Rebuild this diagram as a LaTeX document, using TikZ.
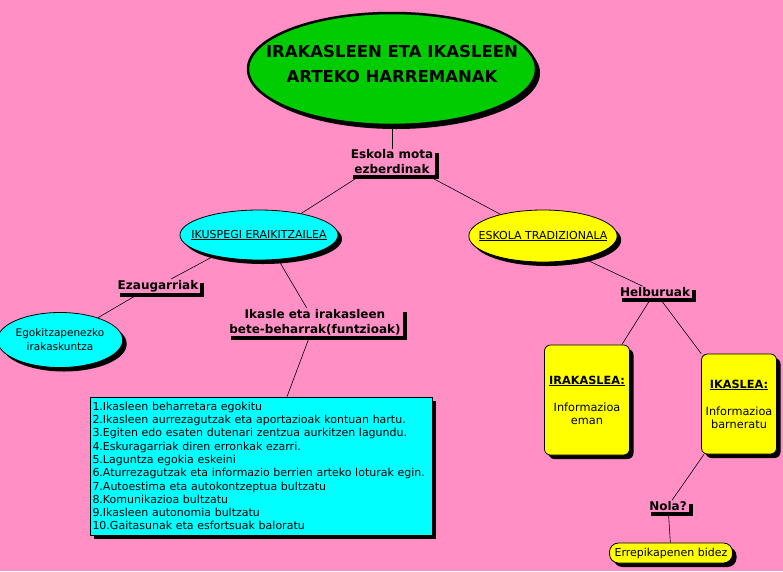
\documentclass[tikz,border=0pt]{standalone}
\usepackage{fontspec}
\setmainfont{DejaVu Sans}
\usetikzlibrary{shapes.geometric,shadows,calc}
\definecolor{bgpink}{HTML}{FF8FC5}
\definecolor{tgreen}{HTML}{00CC00}
\definecolor{tcyan}{HTML}{00FFFF}
\definecolor{tyellow}{HTML}{FFFF00}
\tikzset{
  shd/.style={drop shadow={shadow xshift=4pt,shadow yshift=-4pt,fill=black,opacity=1}},
  lbl/.style={font=\bfseries\fontsize{12}{15}\selectfont, fill=bgpink, align=center,
    inner xsep=2pt, inner ysep=1pt, shd},
  oval/.style={ellipse, draw=black, line width=0.8pt, inner sep=0pt, align=center, shd},
  rbox/.style={rectangle, rounded corners=6pt, draw=black, line width=0.8pt, fill=tyellow,
    align=center, shd},
  conn/.style={draw=black, line width=0.6pt}
}
\begin{document}
\begin{tikzpicture}[x=1pt,y=-1pt]
\useasboundingbox (0,0) rectangle (783,571);
\fill[bgpink] (0,0) rectangle (783,571);

% title
\node[oval, line width=2.5pt, fill=tgreen, minimum width=288pt, minimum height=112pt] (title) at (392,69) {};
\node[align=center, font=\bfseries\fontsize{16.5}{25}\selectfont, inner sep=0pt] (titletext) at (392,64)
  {IRAKASLEEN ETA IKASLEEN\\ARTEKO HARREMANAK};

\node[lbl] (esk) at (392,162) {Eskola mota\\ezberdinak};

\node[oval, fill=tcyan, minimum width=158pt, minimum height=50pt, inner xsep=-12pt,
  font=\fontsize{11}{13}\selectfont] (ik) at (259,235) {\underline{IKUSPEGI ERAIKITZAILEA}};
\node[oval, fill=tyellow, minimum width=148pt, minimum height=52pt, inner xsep=-12pt,
  font=\fontsize{11}{13}\selectfont] (et) at (543,236) {\underline{ESKOLA TRADIZIONALA}};

\node[lbl] (ez) at (158,286) {Ezaugarriak};
\node[oval, fill=tcyan, minimum width=114pt, minimum height=55pt,
  font=\fontsize{10.5}{14}\selectfont] (ego) at (60,340) {Egokitzapenezko\\irakaskuntza};

\node[lbl] (ikl) at (315,322) {Ikasle eta irakasleen\\bete-beharrak(funtzioak)};

\node[rectangle, draw=black, line width=0.8pt, fill=tcyan, shd, align=left,
  minimum width=342pt, minimum height=138pt, text width=337pt, inner xsep=2.5pt,
  font=\fontsize{11}{13.3}\selectfont] (list) at (261,466)
  {1.Ikasleen beharretara egokitu\\
   2.Ikasleen aurrezagutzak eta aportazioak kontuan hartu.\\
   3.Egiten edo esaten dutenari zentzua aurkitzen lagundu.\\
   4.Eskuragarriak diren erronkak ezarri.\\
   5.Laguntza egokia eskeini\\
   6.Aturrezagutzak eta informazio berrien arteko loturak egin.\\
   7.Autoestima eta autokontzeptua bultzatu\\
   8.Komunikazioa bultzatu\\
   9.Ikasleen autonomia bultzatu\\
   10.Gaitasunak eta esfortsuak baloratu};

\node[lbl] (hel) at (655,292) {Helburuak};

\node[rbox, minimum width=85pt, minimum height=110pt, font=\fontsize{11.3}{13}\selectfont]
  (irak) at (587,400) {{\bfseries\underline{IRAKASLEA:}}\\[14pt]Informazioa\\eman};
\node[rbox, minimum width=75pt, minimum height=100pt, font=\fontsize{11.3}{13}\selectfont]
  (ikas) at (739,404) {{\bfseries\underline{IKASLEA:}}\\[14pt]Informazioa\\barneratu};

\node[lbl] (nola) at (668,506) {Nola?};
\node[rbox, rounded corners=9pt, minimum width=123pt, minimum height=20pt, inner sep=1pt,
  font=\fontsize{11}{12}\selectfont] (err) at (671,553) {Errepikapenen bidez};

% connectors
\draw[conn] (title) -- (esk);
\draw[conn] ($(esk.south west)+(12,0)$) -- (ik.27);
\draw[conn] ($(esk.south east)+(-8,0)$) -- (et.153);
\draw[conn] (ik.205) -- (ez);
\draw[conn] ($(ez.south)+(-18,0)$) -- (ego);
\draw[conn] (ik.-52) -- (ikl);
\draw[conn] (ikl) -- (list);
\draw[conn] (et.-29) -- (hel);
\draw[conn] (hel) -- (irak);
\draw[conn] (hel) -- (ikas);
\draw[conn] (ikas) -- (nola);
\draw[conn] (nola) -- (err);
\end{tikzpicture}
\end{document}
